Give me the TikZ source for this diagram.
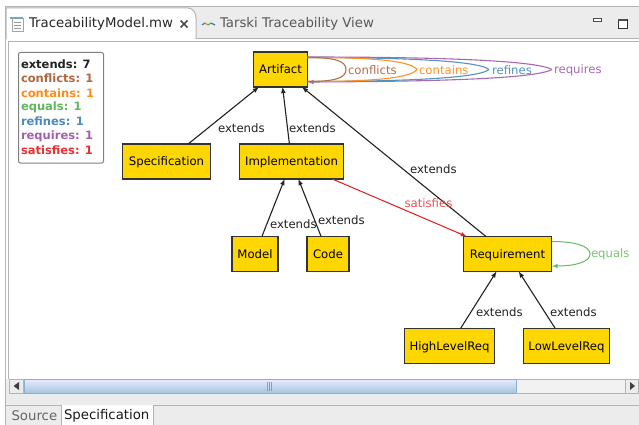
\documentclass[tikz,border=0pt]{standalone}
\usepackage{fontspec}
\setmainfont{DejaVu Sans}
\definecolor{cExtends}{HTML}{222222}
\definecolor{cConflicts}{HTML}{A65628}
\definecolor{cContains}{HTML}{FF7F00}
\definecolor{cEquals}{HTML}{4DAF4A}
\definecolor{cRefines}{HTML}{377EB8}
\definecolor{cRequires}{HTML}{984EA3}
\definecolor{cSatisfies}{HTML}{E41A1C}
\definecolor{cGold}{HTML}{FFD700}
\definecolor{cPanel}{HTML}{ECECEC}
\definecolor{cFrame}{HTML}{B4B4B4}
\begin{document}
\begin{tikzpicture}[x=1pt,y=-1pt]
\tikzset{ >=latex, inner sep=0pt, outer sep=0pt,
  model/.style={fill=cGold, draw=black!80, line width=1.1pt, minimum height=35pt, text height=8.6pt, text depth=0pt, font=\fontsize{11.7pt}{13pt}\selectfont},
  rel/.style={->, line width=1.1pt, cExtends},
  lab/.style={font=\fontsize{11.7pt}{13pt}\selectfont, text=#1, anchor=west},
  lab/.default=cExtends,
  legend/.style={font=\fontsize{11.5pt}{13pt}\selectfont\bfseries, text=#1, anchor=west},
  tabtext/.style={font=\fontsize{13.3pt}{15pt}\selectfont, text=#1, anchor=west},
}
\useasboundingbox (0,0) rectangle (639,425);

% window
\fill [white] (0,0) rectangle (639,425);
\fill [cPanel] (5,7) rectangle (639,39);
\draw [cFrame, line width=1pt] (5,425) -- (5,7) -- (639,7);
\draw [cFrame, line width=1pt] (196,39) -- (639,39);
\draw [cFrame, line width=1pt] (8,42) -- (639,42);
\fill [cPanel] (6,379) rectangle (639,425);
\draw [cFrame, line width=1pt] (8,42) -- (8,379);

% editor tab
\draw [cFrame, line width=1pt, fill=white] (6,39) -- (6,8) -- (188,8) to[out=0,in=90] (196,18) -- (196,39);
\node [tabtext=black!85] (TabModel) at (29,24) {TraceabilityModel.mw};
\node [tabtext=black!65] (TabView) at (220,24) {Tarski Traceability View};

% tab icons
\draw [gray!70, fill=white] (12,18) rectangle (23,31);
\fill [cRefines!70] (10,17) rectangle (23,19);
\draw [gray!80, line width=0.6pt] (14,22) -- (21,22) (14,25) -- (21,25) (14,28) -- (21,28);
\draw [black!70, line width=1.6pt] (180.5,20.5) -- (187.5,27.5) (187.5,20.5) -- (180.5,27.5);
\draw [cRefines, line width=1.2pt] (202,25) -- (205,23);
\draw [cContains, line width=1.2pt] (205,23) -- (208,25);
\draw [cEquals, line width=1.2pt] (208,25) -- (211,23);
\draw [cRefines, line width=1.2pt] (211,23) -- (215,25);
\draw [black!70, line width=0.9pt, fill=white] (593,18) rectangle (601,21);
\draw [black!80, line width=0.9pt, fill=white] (618,19) rectangle (627,28);
\fill [black!70] (618,19) rectangle (627,21.5);

% legend
\draw [gray, line width=1pt, rounded corners=2pt] (18.5,52.5) rectangle (103.5,163);
\node [legend=cExtends] (LegExtends) at (21,64) {extends: 7};
\node [legend=cConflicts!90] (LegConflicts) at (21,78.5) {conflicts: 1};
\node [legend=cContains!90] (LegContains) at (21,93) {contains: 1};
\node [legend=cEquals!90] (LegEquals) at (21,107.5) {equals: 1};
\node [legend=cRefines!90] (LegRefines) at (21,121.5) {refines: 1};
\node [legend=cRequires!90] (LegRequires) at (21,136) {requires: 1};
\node [legend=cSatisfies!90] (LegSatisfies) at (21,150.5) {satisfies: 1};

% classes
\node [model, minimum width=54pt] (Artifact) at (280.5,69.5) {Artifact};
\node [model, minimum width=88.5pt] (Specification) at (166.5,161.5) {Specification};
\node [model, minimum width=104pt] (Implementation) at (291.5,161.5) {Implementation};
\node [model, minimum width=46pt] (Model) at (255,254) {Model};
\node [model, minimum width=42pt] (Code) at (328,254) {Code};
\node [model, minimum width=88.5pt] (Requirement) at (507.5,254) {Requirement};
\node [model, minimum width=90.5pt] (HighLevelReq) at (449.5,346) {HighLevelReq};
\node [model, minimum width=86.5pt] (LowLevelReq) at (566.5,346) {LowLevelReq};

% extends
\draw [rel] (Specification) -- (Artifact);
\draw [rel] (Implementation) -- (Artifact);
\draw [rel] (Requirement) -- (Artifact);
\draw [rel] (Model) -- (Implementation);
\draw [rel] (Code) -- (Implementation);
\draw [rel] (HighLevelReq) -- (Requirement);
\draw [rel] (LowLevelReq) -- (Requirement);

\draw [->, cSatisfies, line width=1pt] (Implementation) -- (Requirement);

% self loops
\coordinate (TipConflicts) at (346,69.5);
\coordinate (TipContains) at (417,69.5);
\coordinate (TipRefines) at (489,69.5);
\coordinate (TipRequires) at (552,69.5);
\coordinate (TipEquals) at (590,254);

\draw [cRequires!85, line width=1.1pt] ([yshift=12.5pt]Artifact.east) .. controls (430,57) and (535,60) .. (TipRequires);
\draw [->, cRequires!85, line width=1.1pt] (TipRequires) .. controls (535,79) and (430,81.5) .. ([yshift=-12.5pt]Artifact.east);
\draw [cRefines!85, line width=1.1pt] ([yshift=12pt]Artifact.east) .. controls (390,57.5) and (478,60) .. (TipRefines);
\draw [cRefines!85, line width=1.1pt] (TipRefines) .. controls (478,79) and (390,81.5) .. ([yshift=-12pt]Artifact.east);
\draw [cContains!85, line width=1.1pt] ([yshift=12pt]Artifact.east) .. controls (365,57.5) and (410,60) .. (TipContains);
\draw [cContains!85, line width=1.1pt] (TipContains) .. controls (410,79) and (365,81.5) .. ([yshift=-12pt]Artifact.east);
\draw [cConflicts!85, line width=1.1pt] ([yshift=12pt]Artifact.east) .. controls (335,57.5) and (346,61) .. (TipConflicts);
\draw [cConflicts!85, line width=1.1pt] (TipConflicts) .. controls (346,78) and (335,81.5) .. ([yshift=-12pt]Artifact.east);
\draw [cEquals!85, line width=1pt] ([yshift=12.5pt]Requirement.east) .. controls (575,241.5) and (590,246) .. (TipEquals);
\draw [->, cEquals!85, line width=1pt] (TipEquals) .. controls (590,262) and (575,266) .. ([yshift=-12pt]Requirement.east);

% labels
\node [lab] (ExtSpec) at (218,128) {extends};
\node [lab] (ExtImpl) at (289,128) {extends};
\node [lab] (ExtReq) at (410,169) {extends};
\node [lab] (ExtModel) at (270,224) {extends};
\node [lab] (ExtCode) at (318,220) {extends};
\node [lab] (ExtHigh) at (476,312) {extends};
\node [lab] (ExtLow) at (550,312) {extends};
\node [lab=cSatisfies!75] (LabSatisfies) at (404.5,203) {satisfies};
\node [lab=cConflicts!85] (LabConflicts) at (348,70) {conflicts};
\node [lab=cContains!85] (LabContains) at (419,70) {contains};
\node [lab=cRefines!85] (LabRefines) at (492,70) {refines};
\node [lab=cRequires!85] (LabRequires) at (554,70) {requires};
\node [lab=cEquals!75] (LabEquals) at (591,254) {equals};

% scrollbar
\fill [cPanel!70!white] (9,379) rectangle (639,393);
\shade [top color=blue!8!white, bottom color=cRefines!45!white] (24,379) rectangle (516,393);
\draw [cRefines!60!white, line width=0.8pt] (24,393) -- (24,379) -- (516,379) -- (516,393) -- cycle;
\draw [cFrame, line width=0.8pt] (516,379) -- (639,379) (516,393) -- (639,393);
\draw [cFrame, line width=0.6pt, fill=cPanel] (9.5,379.5) rectangle (23,393);
\draw [cFrame, line width=0.6pt, fill=cPanel] (625,379.5) rectangle (638.5,393);
\fill [black!75] (13.5,386) -- (19,382) -- (19,390) -- cycle;
\fill [black!75] (635,386) -- (630,382) -- (630,390) -- cycle;
\draw [cRefines!70, line width=0.5pt] (267.5,382) -- (267.5,391) (269.5,382) -- (269.5,391) (271.5,382) -- (271.5,391);

% bottom tabs
\draw [cFrame, line width=1pt] (6,405) -- (639,405);
\fill [cPanel] (10,406) rectangle (61,425);
\fill [white] (62,405) rectangle (153,425);
\draw [cFrame, line width=0.8pt] (61.5,406) -- (61.5,425) (153,405) -- (153,425);
\node [tabtext=black!60] (TabSource) at (11.5,416) {Source};
\node [tabtext=black!90] (TabSpec) at (64,416) {Specification};
\end{tikzpicture}
\end{document}
